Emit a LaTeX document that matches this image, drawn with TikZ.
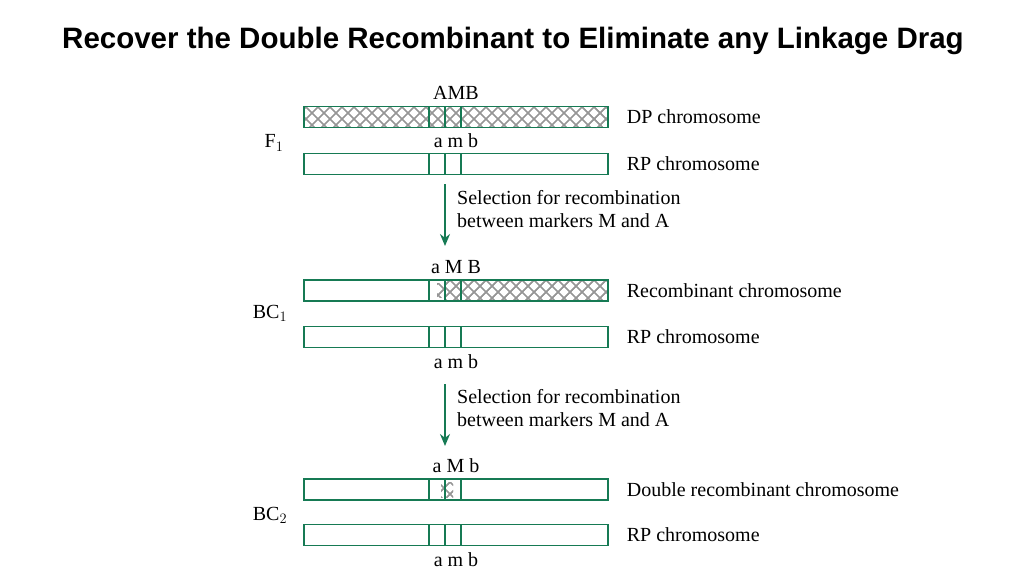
\documentclass[tikz,border=0pt]{standalone}
\usepackage{fontspec}
\setmainfont{Liberation Serif}
\newfontfamily\titlefont{Liberation Sans}
\usetikzlibrary{arrows.meta, positioning}
\definecolor{chromgreen}{RGB}{22, 122, 84}
\definecolor{hatchgray}{RGB}{150, 150, 150}
\tikzset{
  bar/.style={draw=chromgreen, line width=1.3pt, rectangle, minimum width=304pt,
    minimum height=21pt, inner sep=0pt},
  locus/.style={chromgreen, line width=1.3pt},
  lbl/.style={font=\fontsize{20}{22}\selectfont, inner sep=0pt},
  hatchline/.style={hatchgray, line width=1.4pt}
}
% cross hatching of a box: x1, y1, x2, y2
\newcommand{\crossbox}[4]{%
  \begin{scope}
    \clip (#1,#2) rectangle (#3,#4);
    \foreach \hx in {-30,-18,...,640}{
      \draw[hatchline] (\hx,#2) -- ++(30,30);
      \draw[hatchline] (\hx,#2) -- ++(-30,30);
      \draw[hatchline] (\hx+6,#2-6) -- ++(30,30);
      \draw[hatchline] (\hx+6,#2-6) -- ++(-30,30);
    }
  \end{scope}}
\begin{document}
\begin{tikzpicture}[x=1pt, y=-1pt]
  \useasboundingbox (0,0) rectangle (1024,575);
  % Title
  \node[font=\titlefont\bfseries\fontsize{29.5}{33}\selectfont] (title) at (513,41)
    {Recover the Double Recombinant to Eliminate any Linkage Drag};

  % Hatched parts
  \crossbox{304}{107}{608}{127}
  \crossbox{445}{280}{608}{301}
  \crossbox{437}{283}{445}{297}
  \crossbox{441}{482}{453}{497}

  % Bars
  \foreach \name/\y in {dp/117, rpa/164, rec/290.5, rpb/337, dbl/489.5, rpc/535}{
    \node[bar] (\name) at (456,\y) {};
    \foreach \xm in {429,445,461}
      \draw[locus] (\xm,\y-10.5) -- (\xm,\y+10.5);
  }

  % Marker labels
  \node[lbl, above=6pt of dp] {AMB};
  \node[lbl, above=5pt of rpa] {a m b};
  \node[lbl, above=5pt of rec] {a M B};
  \node[lbl, below=6pt of rpb] {a m b};
  \node[lbl, above=5pt of dbl] {a M b};
  \node[lbl, below=6pt of rpc] {a m b};

  % Chromosome labels
  \node[lbl, right=18pt of dp] {DP chromosome};
  \node[lbl, right=18pt of rpa] {RP chromosome};
  \node[lbl, right=18pt of rec] {Recombinant chromosome};
  \node[lbl, right=18pt of rpb] {RP chromosome};
  \node[lbl, right=18pt of dbl] {Double recombinant chromosome};
  \node[lbl, right=18pt of rpc] {RP chromosome};

  % Generations
  \node[lbl] (f1) at (274,143) {F$_1$};
  \node[lbl] (bc1) at (270,313) {BC$_1$};
  \node[lbl] (bc2) at (270,515) {BC$_2$};

  % Selection arrows
  \coordinate (s1a) at (445,184);
  \coordinate (s1b) at (445,246);
  \coordinate (s2a) at (445,384);
  \coordinate (s2b) at (445,446);
  \draw[chromgreen, line width=1.5pt, -{Stealth[length=12pt, width=10pt]}] (s1a) -- (s1b);
  \draw[chromgreen, line width=1.5pt, -{Stealth[length=12pt, width=10pt]}] (s2a) -- (s2b);
  \node[lbl, anchor=west, align=left] (sel1) at (457,209)
    {Selection for recombination\\[1pt]between markers M and A};
  \node[lbl, anchor=west, align=left] (sel2) at (457,408)
    {Selection for recombination\\[1pt]between markers M and A};
\end{tikzpicture}
\end{document}
